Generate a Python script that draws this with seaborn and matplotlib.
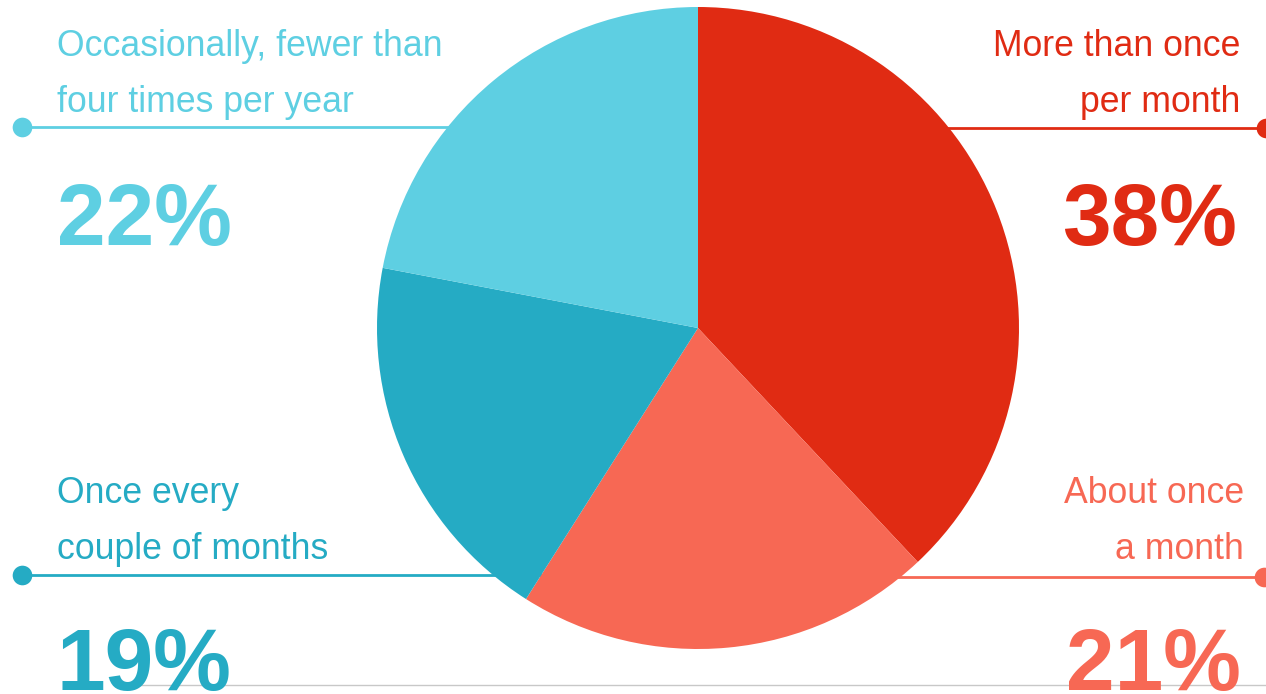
import matplotlib
matplotlib.use("Agg")
import matplotlib.pyplot as plt
import seaborn as sns
import pandas as pd

categories = ["More than once\nper month", "About once\na month",
              "Once every\ncouple of months", "Occasionally, fewer than\nfour times per year"]
values = [38, 21, 19, 22]
pct_labels = ["38%", "21%", "19%", "22%"]
colors = ["#E02B13", "#F76854", "#25ABC4", "#5ECFE2"]

sns.set_theme(style="white")
plt.rcParams['font.family'] = ['Liberation Sans', 'DejaVu Sans']

W, H = 1266, 694
fig = plt.figure(figsize=(W / 100, H / 100), dpi=100)
ax = fig.add_axes([0, 0, 1, 1])
ax.set_xlim(0, W)
ax.set_ylim(0, H)
ax.set_aspect('equal')
ax.axis('off')

def Y(y):
    return H - y

cx, cy, r = 698, 328, 321

# connector lines (behind pie)
line_specs = [  # (x_dot, y) per category
    (1266, 128), (1264, 577), (22, 575), (22, 127)
]
for (xd, yl), c in zip(line_specs, colors):
    df = pd.DataFrame({"x": [xd, cx], "y": [Y(yl), Y(yl)]})
    sns.lineplot(data=df, x="x", y="y", ax=ax, color=c, lw=2, zorder=1)
    ax.scatter([xd], [Y(yl)], s=200, color=c, zorder=2, linewidths=0)

ax.pie(values, colors=colors, startangle=90, counterclock=False,
       center=(cx, Y(cy)), radius=r, frame=True,
       wedgeprops=dict(linewidth=0, zorder=3))
ax.set_xlim(0, W)
ax.set_ylim(0, H)
ax.axis('off')

# bottom gray line
ax.plot([140, W], [Y(685), Y(685)], color="#C8C8C8", lw=1, zorder=0)

# labels
label_specs = [  # (x, baseline_y of first line, ha)
    (1240, 56, 'right'), (1244, 503, 'right'), (57, 503, 'left'), (57, 56, 'left')
]
pct_specs = [(1237, 245, 'right'), (1241, 690, 'right'), (57, 690, 'left'), (57, 245, 'left')]
for cat, (x, yb, ha), c in zip(categories, label_specs, colors):
    for i, line in enumerate(cat.split("\n")):
        ax.text(x, Y(yb + 56 * i), line, ha=ha, va='baseline', color=c,
                fontsize=25.7, zorder=5)
for p, (x, yb, ha), c in zip(pct_labels, pct_specs, colors):
    ax.text(x, Y(yb), p, ha=ha, va='baseline', color=c, fontsize=63,
            fontweight='bold', zorder=5)

fig.savefig("out.png", dpi=100)
